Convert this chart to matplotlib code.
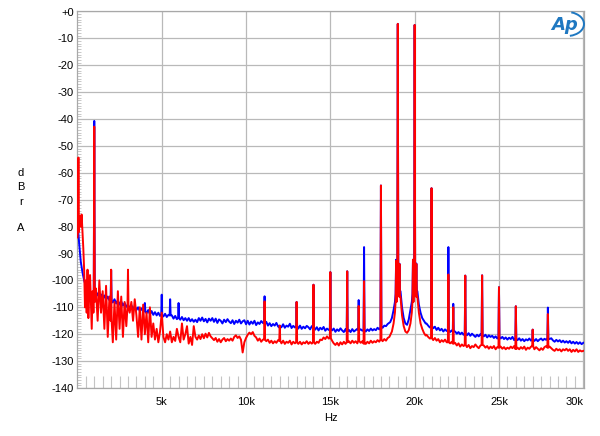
import numpy as np
import matplotlib
matplotlib.use("Agg")
import matplotlib.pyplot as plt
from matplotlib.patches import Arc

plt.rcParams['font.family'] = ['Liberation Sans', 'DejaVu Sans']

# ---------------- data ----------------
x_ticks = [5000, 10000, 15000, 20000, 25000, 30000]
x_tick_labels = ["5k", "10k", "15k", "20k", "25k", "30k"]
y_ticks = list(range(0, -150, -10))
y_tick_labels = ["+0"] + [str(v) for v in range(-10, -150, -10)]

# Blue trace: noise floor
blue_low_f = np.arange(0, 7001, 100)
blue_low_v = [-77, -86, -93, -97, -100, -102, -103.5, -104, -104.5, -105,
              -105, -106, -104.8, -106.4, -105.2, -106.8, -105.6, -107.2, -106, -107.4,
              -107, -108.2, -107, -108.6, -107.4, -109, -107.8, -109.4, -108.4, -109.8,
              -109, -110.4, -109.2, -110.8, -109.6, -111, -110, -111.4, -110.4, -111.6,
              -111, -112.2, -111, -112.6, -111.4, -112.8, -111.8, -113, -112, -113.2,
              -112.6, -113.4, -112.4, -113.6, -112.8, -114, -113, -114.2, -113.2, -114.4,
              -113.6, -114.6, -113.6, -114.8, -114, -115, -114, -115.2, -114.4, -115.4,
              -114.6]
blue_mid_f = np.arange(7100, 18401, 100)
blue_mid_v = [-115.5, -114, -115, -113.8, -115.2, -114.3, -115.6, -114.2, -115, -114,
              -115.4, -114.2, -115.8, -114.5, -115, -116, -114.6, -115.5, -114.4, -115.3,
              -115.9, -114.8, -116.2, -115, -115.7, -114.6, -116, -115.2, -114.8, -116.3,
              -115, -116.4, -115.3, -116.1, -115, -116.6, -115.6, -116.2, -115.1, -115.8,
              -116.5, -115.4, -116.8, -115.9, -117, -116.2, -116.8, -115.8, -117.1, -116.5,
              -117.4, -116.3, -117.6, -116.8, -117.2, -116.1, -117.7, -116.9, -117.5, -117,
              -117.9, -116.8, -118, -117.2, -117.8, -116.9, -117.4, -118.2, -117, -117.8,
              -118.3, -117.4, -118.6, -117.6, -118.2, -117.3, -118.7, -117.9, -118.4, -117.8,
              -118.6, -117.9, -119.1, -118.2, -118.8, -117.8, -118.6, -119.2, -118.1, -118.9,
              -118.4, -119.2, -118.1, -119, -118.5, -118, -118.9, -118.2, -118.7, -118.3,
              -119, -118.2, -118.8, -117.9, -118.6, -118.1, -118.5, -117.6, -118.2, -117.5,
              -117.6, -116.8, -117, -116.2]
blue_tone_f = [18550, 18650, 18750, 18830, 18960, 19040, 19160, 19250, 19350, 19450,
               19550, 19650, 19750, 19830, 19960, 20040, 20160, 20250, 20350, 20450,
               20550, 20650]
blue_tone_v = [-115.5, -114, -111, -108, -100, -100, -104, -110, -114, -116,
               -116.5, -114.5, -111, -108, -100, -100, -104, -109, -112, -114,
               -115, -116]
blue_high_f = np.arange(20700, 30001, 100)
blue_high_v = [-116, -116.8, -117.5, -117,
               -117.8, -117.2, -118.4, -117.6, -118.6, -118, -119, -118.2, -118.8, -118.5,
               -119.2, -118.6, -119.4, -119, -119.8, -119.2, -120, -119.4, -120.2, -119.6,
               -120.4, -119.6, -120.6, -119.8, -120.4, -121, -120.2, -120.8, -120, -120.5,
               -120.8, -120.2, -121.2, -120.4, -121, -120.6, -121.4, -120.8, -121.6, -121,
               -121.6, -121, -121.8, -121.2, -122, -121.3, -121.8, -121, -122.2, -121.6,
               -122.2, -121.5, -122.4, -121.8, -122.6, -121.9, -122.3, -121.6, -122.4, -122,
               -122.5, -121.8, -122.6, -122, -121.6, -122.3, -121.7, -122.1, -121.4, -121.8,
               -121.5, -122.3, -122.8, -122.1, -122.7, -122.2, -123, -122.4, -123.1, -122.6,
               -123.2, -122.5, -123.4, -122.8, -123.5, -122.9, -123.6, -123, -123.7, -123.2]
# Blue trace: discrete tones (frequency, peak, level at the foot)
blue_spike_f = [1000, 2000, 4000, 5000, 5500, 6000, 11100, 12000, 13000, 14000,
                15000, 16000, 16680, 17000, 18000, 18900, 19000, 19100, 19900, 20000,
                20100, 21000, 22000, 22290, 23000, 24000, 25000, 26000, 27000, 27900]
blue_spike_v = [-40.7, -96.2, -108.4, -105.3, -107, -108.4, -105.9, -116.8, -108, -101.6,
                -96.9, -96.6, -107.3, -87.6, -64.7, -92.3, -4.6, -93.8, -92.3, -5.0,
                -93.7, -65.7, -87.6, -108.7, -98.2, -98.1, -102.5, -109.6, -118.3, -110.1]
blue_spike_b = [-105, -107.5, -111.5, -113, -113, -114, -116, -117.5, -117, -117.5,
                -118, -119, -118.5, -118.5, -117.5, -105, -100, -104, -105, -100,
                -104, -117, -118.5, -119, -120, -120.5, -121, -122, -122, -121.5]

# Red trace: noise floor
red_vlow_f = np.arange(0, 1001, 50)
red_vlow_v = [-84, -80, -78, -76, -80, -75.5, -82, -88, -96, -110,
              -100, -112, -96, -114, -104, -98, -108, -118, -104, -112,
              -106]
red_low_f = np.arange(1100, 7001, 100)
red_low_v = [-103, -115, -100, -112, -104, -118, -102, -121, -106, -112,
             -123, -108, -122, -104, -118, -106, -121, -108, -117, -105,
             -112, -108, -115, -107, -113, -121, -110, -122, -109, -120,
             -112, -123, -110, -121, -116, -122, -118, -123, -119, -112,
             -121, -123, -120, -122, -119, -123, -121, -122.5, -118, -121,
             -123, -116, -122, -120, -117, -123.5, -121, -124, -117, -121]
red_mid_f = np.arange(7100, 18401, 100)
red_mid_v = [-122, -120.5, -121.8, -120, -121.5, -119.8, -121.2, -119.5, -120.8, -121.5,
             -122.2, -121.4, -122.8, -121.8, -123, -122, -121.4, -122.6, -121.8, -122.4,
             -121.6, -122.4, -121, -120.4, -121.4, -120.8, -122, -126.8, -123, -121.4,
             -120.2, -119.4, -120, -119.2, -120.6, -121.2, -122.4, -121.6, -122.8, -122,
             -121.5, -122.6, -122, -123.2, -122.4, -123.4, -122.6, -123.2, -122.2, -123,
             -123.4, -122.4, -123.6, -122.8, -123.2, -122.4, -123.8, -122.8, -123.4, -122.6,
             -123.6, -122.8, -123.8, -123, -123.4, -122.6, -123.6, -122.9, -123.5, -123,
             -123.6, -122.8, -123.2, -122, -122.2, -121.2, -121.8, -120.8, -121.6, -121.2,
             -122.4, -123.4, -124, -123.2, -124.2, -123, -123.8, -122.8, -123.6, -123,
             -122.6, -123.4, -122.4, -123.2, -122.6, -123.4, -122.4, -123.2, -122.6, -123.4,
             -123.6, -122.8, -123.4, -122.4, -123.2, -122.6, -123, -122.2, -122.8, -122,
             -122.6, -121.8, -122.4, -121.4]
red_tone_f = [18500, 18650, 18750, 18830, 18960, 19040, 19160, 19250, 19350, 19450,
              19550, 19650, 19750, 19830, 19960, 20040, 20160, 20250, 20350, 20450,
              20550, 20650]
red_tone_v = [-121, -119, -116, -112, -100, -100, -106, -113, -117, -119,
              -119.5, -118.5, -116, -112, -100, -100, -106, -112, -116, -118,
              -119.5, -120.5]
red_high_f = np.arange(20700, 30001, 100)
red_high_v = [-120.2, -121, -121.6, -121.5,
              -122.2, -121.4, -122.4, -121.8, -123, -122.2, -122.8, -122, -123, -122.4,
              -123.4, -122.8, -123.8, -123.2, -124.2, -123.4, -124.6, -123.8, -124.4, -124,
              -124.8, -124, -125.2, -124.4, -124.8, -123.8, -124.6, -125.2, -124.2, -124.6,
              -124.2, -125, -124.4, -125.4, -124.6, -125.2, -124.4, -125.6, -124.8, -125.2,
              -124.6, -125.4, -124.8, -125.6, -125, -125.4, -124.6, -125.2, -124.4, -125.6,
              -125, -125.6, -124.8, -125.4, -124.6, -125.8, -125, -125.4, -124.6, -125.2,
              -125.6, -124.8, -125.4, -126, -125.2, -125.8, -124.8, -124.4, -125, -124.6,
              -125.2, -125.8, -126.2, -125.4, -126, -125.6, -126.4, -125.6, -126, -125.4,
              -126.2, -125.6, -126.6, -125.8, -126.4, -125.6, -126.6, -126, -126.4, -126.2]
# Red trace: discrete tones
red_spike_f = [60, 1000, 2000, 3000, 11100, 12000, 13000, 14000, 15000, 16000,
               16680, 17000, 18000, 18900, 19000, 19100, 19900, 20000, 20100, 21000,
               22000, 22290, 23000, 24000, 25000, 26000, 27000, 27900]
red_spike_v = [-54.3, -42.8, -96.0, -96.0, -107.8, -116.8, -108, -101.6, -96.9, -96.6,
               -109.5, -100.3, -64.7, -92.7, -4.6, -93.9, -92.3, -5.0, -93.9, -65.7,
               -97.8, -110, -98.2, -98.1, -102.5, -109.6, -118.3, -112.5]
red_spike_b = [-82, -108, -115, -110, -122, -122.5, -123, -123, -121.5, -123,
               -122.5, -123.5, -122, -108, -100, -106, -108, -100, -106, -121.5,
               -123, -123.5, -124, -124, -125, -125.5, -124.5, -125]


def build_trace(floor_parts, sp_f, sp_v, sp_b, half_width=30):
    f = np.concatenate([np.asarray(p[0], float) for p in floor_parts])
    v = np.concatenate([np.asarray(p[1], float) for p in floor_parts])
    keep = np.ones(len(f), bool)
    for fr in sp_f:
        keep &= ~((f > fr - half_width) & (f < fr + half_width))
    f, v = list(f[keep]), list(v[keep])
    for fr, pk, b in zip(sp_f, sp_v, sp_b):
        f += [fr - half_width, fr, fr + half_width]
        v += [b, pk, b]
    f = np.array(f)
    v = np.array(v)
    order = np.argsort(f, kind='stable')
    return f[order], v[order]


bf, bv = build_trace([(blue_low_f, blue_low_v), (blue_mid_f, blue_mid_v),
                      (blue_tone_f, blue_tone_v), (blue_high_f, blue_high_v)],
                     blue_spike_f, blue_spike_v, blue_spike_b)
rf, rv = build_trace([(red_vlow_f, red_vlow_v), (red_low_f, red_low_v),
                      (red_mid_f, red_mid_v), (red_tone_f, red_tone_v),
                      (red_high_f, red_high_v)],
                     red_spike_f, red_spike_v, red_spike_b)

# ---------------- figure ----------------
W, H = 600, 436
fig = plt.figure(figsize=(W / 100, H / 100), dpi=100)
L, R, T, B = 77.4, 584.3, 11.5, 388.0
ax = fig.add_axes([L / W, 1 - B / H, (R - L) / W, (B - T) / H])

ax.plot(bf, bv, color='#0000ff', lw=1.4, solid_joinstyle='round', zorder=3)
ax.plot(rf, rv, color='#ff0000', lw=1.4, solid_joinstyle='round', zorder=4)

ax.set_xlim(0, 30060)
ax.set_ylim(-140, 0)
ax.set_xticks(x_ticks)
ax.set_xticklabels(x_tick_labels)
ax.set_yticks(y_ticks)
ax.set_yticklabels(y_tick_labels)
ax.set_xticks(np.arange(500, 30001, 500), minor=True)
ax.set_yticks(np.arange(-139, 0, 1), minor=True)

ax.grid(True, which='major', color='#b9b9b9', lw=0.9, zorder=1)
for s in ax.spines.values():
    s.set_color('#a8a8a8')
    s.set_linewidth(0.9)

ax.tick_params(which='major', length=0, labelsize=8, colors='black')
ax.tick_params(axis='x', which='major', pad=6.3)
ax.tick_params(axis='y', which='major', pad=2.5)
ax.tick_params(axis='x', which='minor', direction='in', length=8.4,
               width=0.8, color='#c4c4c4')
ax.tick_params(axis='y', which='minor', direction='in', length=3,
               width=0.7, color='#c8c8c8')

# right-align the last x label inside the frame
for lab in ax.get_xticklabels():
    if lab.get_text() == "30k":
        lab.set_horizontalalignment('right')

# axis titles
for ch, yp in zip(["d", "B", "r", "A"], [173.3, 187.3, 201.7, 228.3]):
    fig.text(21 / W, 1 - yp / H, ch, ha='center', va='center', fontsize=8)
fig.text(330.9 / W, 1 - 418.3 / H, "Hz", ha='center', va='center', fontsize=8)

# Ap logo
logo_c = '#1f78c1'
fig.text(565 / W, 1 - 25 / H, "Ap", ha='center', va='center', fontsize=13,
         style='italic', weight='bold', color=logo_c, family=['DejaVu Sans'])
fig.add_artist(Arc((567 / W, 1 - 24 / H), 34 / W, 24 / H, theta1=-80, theta2=75,
                   transform=fig.transFigure, color=logo_c, lw=1.4))

fig.savefig("out.png", dpi=100)
